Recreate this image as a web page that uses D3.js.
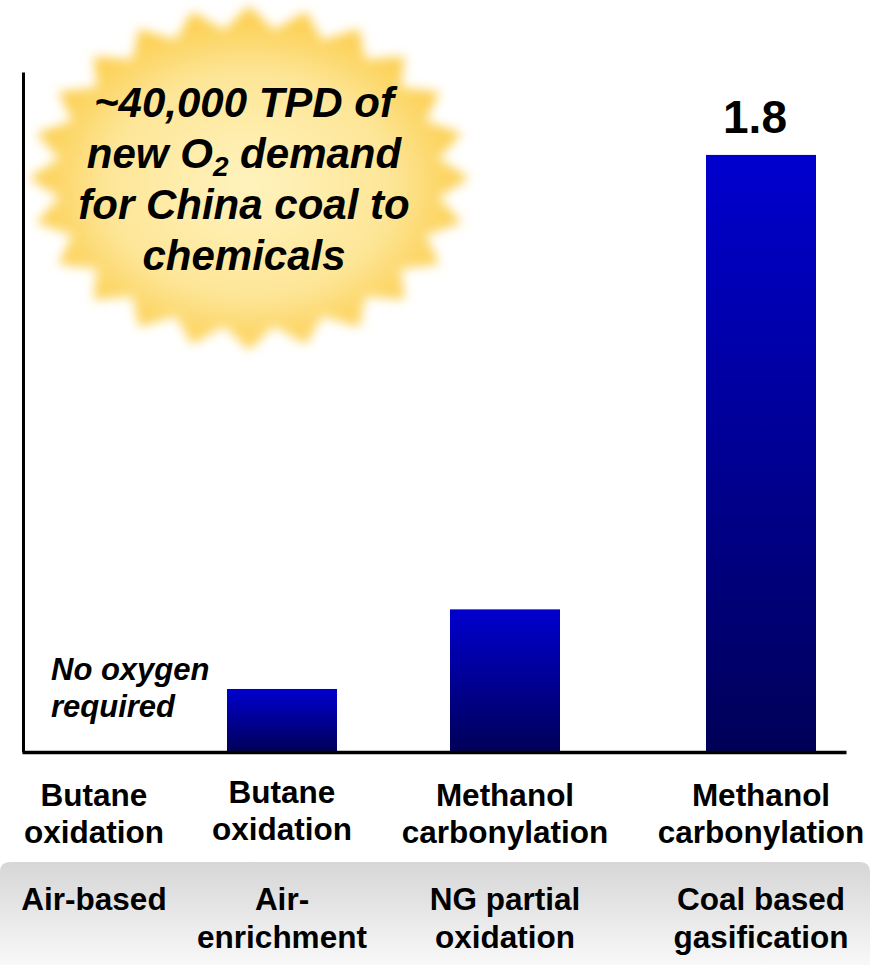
<!DOCTYPE html>
<html>
<head>
<meta charset="utf-8">
<script src="https://cdn.jsdelivr.net/npm/d3@7"></script>
<style>
  html, body { margin: 0; padding: 0; background: #fff; }
  svg { display: block; font-family: Arial, 'Liberation Sans', sans-serif; }
</style>
</head>
<body>
<div id="chart"></div>
<script>
'use strict'

// data
const categories = ['Air-based', 'Air-enrichment', 'NG partial oxidation', 'Coal based gasification']
const values = [0, 0.19, 0.43, 1.8]
const valueLabels = ['', '', '', '1.8']
const processLines = [
  ['Butane', 'oxidation'],
  ['Butane', 'oxidation'],
  ['Methanol', 'carbonylation'],
  ['Methanol', 'carbonylation']
]
const oxygenLines = [
  ['Air-based'],
  ['Air-', 'enrichment'],
  ['NG partial', 'oxidation'],
  ['Coal based', 'gasification']
]
const calloutLines = ['~40,000 TPD of', 'new O|2| demand', 'for China coal to', 'chemicals']
const noOxygenLines = ['No oxygen', 'required']

const width = 881
const height = 965
const baseY = 752
const barWidth = 110
const labelSize = 31.5

const svg = d3.select('#chart')
  .append('svg')
    .attr('width', width)
    .attr('height', height)

const defs = svg.append('defs')

const barGrad = defs.append('linearGradient')
    .attr('id', 'barGrad')
    .attr('x1', 0).attr('y1', 0).attr('x2', 0).attr('y2', 1)
barGrad.append('stop').attr('offset', '0%').attr('stop-color', '#0000cf')
barGrad.append('stop').attr('offset', '45%').attr('stop-color', '#00009a')
barGrad.append('stop').attr('offset', '100%').attr('stop-color', '#000058')

const bandGrad = defs.append('linearGradient')
    .attr('id', 'bandGrad')
    .attr('x1', 0).attr('y1', 0).attr('x2', 0).attr('y2', 1)
bandGrad.append('stop').attr('offset', '0%').attr('stop-color', '#d6d6d6')
bandGrad.append('stop').attr('offset', '100%').attr('stop-color', '#f8f8f8')

const burstGrad = defs.append('radialGradient')
    .attr('id', 'burstGrad')
    .attr('cx', '50%').attr('cy', '52%').attr('r', '55%')
burstGrad.append('stop').attr('offset', '0%').attr('stop-color', '#fff3be')
burstGrad.append('stop').attr('offset', '60%').attr('stop-color', '#fde596')
burstGrad.append('stop').attr('offset', '100%').attr('stop-color', '#fcc736')

defs.append('filter')
    .attr('id', 'soft')
    .attr('x', '-10%').attr('y', '-10%').attr('width', '120%').attr('height', '120%')
  .append('feGaussianBlur')
    .attr('stdDeviation', 5.5)

// scales
const x = d3.scaleOrdinal()
  .domain(categories)
  .range([94, 282, 505, 761])

const y = d3.scaleLinear()
  .domain([0, 2.05])
  .range([baseY, 72])

// starburst callout
const burst = {cx: 249, cy: 178, rx: 220, ry: 172, spikes: 24, inner: 0.87}
const burstPts = d3.range(burst.spikes * 2).map(i => {
  const a = (i / (burst.spikes * 2)) * 2 * Math.PI - Math.PI / 2
  const k = i % 2 === 0 ? 1 : burst.inner
  return [burst.cx + Math.cos(a) * burst.rx * k, burst.cy + Math.sin(a) * burst.ry * k]
})
svg.append('path')
    .attr('d', d3.line().curve(d3.curveLinearClosed)(burstPts))
    .attr('fill', 'url(#burstGrad)')
    .attr('filter', 'url(#soft)')

const callout = svg.append('text')
    .attr('text-anchor', 'middle')
    .attr('font-size', 42)
    .attr('font-weight', 'bold')
    .attr('font-style', 'italic')
    .attr('fill', '#000')

calloutLines.forEach((line, i) => {
  const t = callout.append('tspan')
      .attr('x', 244)
      .attr('y', 117 + i * 51)
  line.split('|').forEach((part, j) => {
    if (j === 1) {
      t.append('tspan').attr('font-size', 28).attr('dy', 8).text(part)
    } else if (j === 2) {
      t.append('tspan').attr('dy', -8).text(part)
    } else {
      t.append('tspan').text(part)
    }
  })
})

// bars
svg.selectAll('rect.bar')
  .data(values.map((v, i) => ({v, c: categories[i]})).filter(d => d.v > 0))
  .enter().append('rect')
    .attr('class', 'bar')
    .attr('x', d => x(d.c) - barWidth / 2)
    .attr('y', d => y(d.v))
    .attr('width', barWidth)
    .attr('height', d => y(0) - y(d.v))
    .attr('fill', 'url(#barGrad)')

svg.selectAll('text.value')
  .data(values.map((v, i) => ({v, c: categories[i], label: valueLabels[i]})).filter(d => d.label))
  .enter().append('text')
    .attr('class', 'value')
    .attr('x', d => x(d.c) - 6)
    .attr('y', d => y(d.v) - 22)
    .attr('text-anchor', 'middle')
    .attr('font-size', 46)
    .attr('font-weight', 'bold')
    .text(d => d.label)

// no oxygen note
svg.append('text')
    .attr('font-size', 31)
    .attr('font-weight', 'bold')
    .attr('font-style', 'italic')
  .selectAll('tspan')
  .data(noOxygenLines)
  .enter().append('tspan')
    .attr('x', 51)
    .attr('y', (d, i) => 680 + i * 37)
    .text(d => d)

// axes (lines only)
const yAxis = d3.axisLeft(y).tickValues([]).tickSizeOuter(0)
svg.append('g')
    .attr('transform', 'translate(23,0)')
    .call(yAxis)
    .call(g => g.select('.domain').attr('stroke', '#000').attr('stroke-width', 3))

const xBase = d3.scaleLinear().domain([0, 1]).range([22, 846])
svg.append('g')
    .attr('transform', `translate(0,${baseY})`)
    .call(d3.axisBottom(xBase).tickValues([]).tickSizeOuter(0))
    .call(g => g.select('.domain').attr('stroke', '#000').attr('stroke-width', 3.5))

// process labels
categories.forEach((c, i) => {
  const dy = i === 1 ? -3 : 0
  svg.append('text')
      .attr('text-anchor', 'middle')
      .attr('font-size', labelSize)
      .attr('font-weight', 'bold')
    .selectAll('tspan')
    .data(processLines[i])
    .enter().append('tspan')
      .attr('x', x(c))
      .attr('y', (d, j) => 806 + dy + j * 37)
      .text(d => d)
})

// oxygen source band
svg.append('path')
    .attr('d', 'M0,965 L0,872 Q0,862 10,862 L860,862 Q870,862 870,872 L870,965 Z')
    .attr('fill', 'url(#bandGrad)')

categories.forEach((c, i) => {
  svg.append('text')
      .attr('text-anchor', 'middle')
      .attr('font-size', labelSize)
      .attr('font-weight', 'bold')
    .selectAll('tspan')
    .data(oxygenLines[i])
    .enter().append('tspan')
      .attr('x', x(c))
      .attr('y', (d, j) => 910 + j * 38)
      .text(d => d)
})
</script>
</body>
</html>
